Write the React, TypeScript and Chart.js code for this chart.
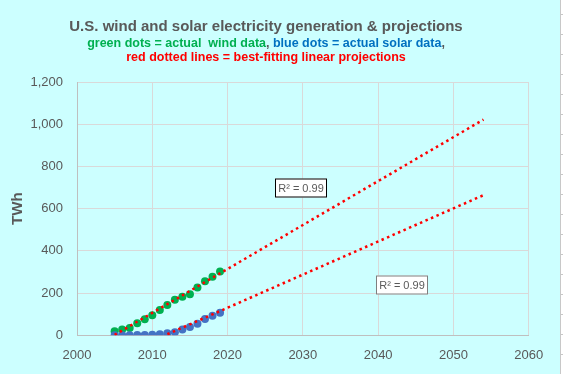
import React, { useEffect, useRef } from "react";
import { Chart, registerables } from "chart.js";

Chart.register(...registerables);

const years = [2005, 2006, 2007, 2008, 2009, 2010, 2011, 2012, 2013, 2014, 2015, 2016, 2017, 2018, 2019];
const windValues = [18.8, 28, 35, 57, 76, 95, 120, 144, 169, 183, 194, 226, 256, 277, 302];
const solarValues = [0.6, 0.5, 0.6, 0.9, 0.9, 3, 5, 10, 15, 28, 39, 55, 77, 93, 107];

const windTrendYears = [2005, 2054];
const windTrendValues = [2, 1022];
const solarTrendYears = [2012, 2054];
const solarTrendValues = [5, 664];

const xTicks = [2000, 2010, 2020, 2030, 2040, 2050, 2060];
const yTicks = [0, 200, 400, 600, 800, 1000, 1200];

const r2Text = "R² = 0.99";
const r2LabelYears = [2029.8, 2043.2];
const r2LabelValues = [700, 236];

const titleText = "U.S. wind and solar electricity generation & projections";
const subtitleParts = [
  { text: "green dots = actual  wind data", color: "#00b050" },
  { text: ",", color: "#595959" },
  { text: " blue dots = actual solar data", color: "#0070c0" },
  { text: ",", color: "#595959" },
];
const subtitle2 = "red dotted lines = best-fitting linear projections";

const FONT = "'Liberation Sans', Arial, sans-serif";

const overlayPlugin = {
  id: "overlay",
  afterDraw(chart: any) {
    const ctx = chart.ctx;
    ctx.save();
    const cx = 266;
    ctx.textBaseline = "alphabetic";
    ctx.textAlign = "left";
    // title
    ctx.font = `bold 15px ${FONT}`;
    ctx.fillStyle = "#595959";
    let w = ctx.measureText(titleText).width;
    ctx.fillText(titleText, cx - w / 2, 30.5);
    // subtitle line 1
    ctx.font = `bold 12.5px ${FONT}`;
    const total = subtitleParts.reduce((s, p) => s + ctx.measureText(p.text).width, 0);
    let x = cx - total / 2;
    for (const p of subtitleParts) {
      ctx.fillStyle = p.color;
      ctx.fillText(p.text, x, 46.5);
      x += ctx.measureText(p.text).width;
    }
    // subtitle line 2
    ctx.fillStyle = "#ff0000";
    w = ctx.measureText(subtitle2).width;
    ctx.fillText(subtitle2, cx - w / 2, 61);

    // R² boxes
    const xs = chart.scales.x;
    const ys = chart.scales.y;
    const borders = ["#000000", "#7f7f7f"];
    ctx.font = `11px ${FONT}`;
    for (let i = 0; i < r2LabelYears.length; i++) {
      const px = Math.round(xs.getPixelForValue(r2LabelYears[i]));
      const py = Math.round(ys.getPixelForValue(r2LabelValues[i]));
      const bw = 52, bh = 19;
      ctx.fillStyle = "#ffffff";
      ctx.fillRect(px - bw / 2, py - bh / 2, bw, bh);
      ctx.strokeStyle = borders[i];
      ctx.lineWidth = 1;
      ctx.strokeRect(px - bw / 2 + 0.5, py - bh / 2 + 0.5, bw - 1, bh - 1);
      ctx.fillStyle = "#595959";
      ctx.textAlign = "center";
      ctx.textBaseline = "middle";
      ctx.fillText(r2Text, px, py + 0.5);
    }
    ctx.restore();
  },
};

export default function App() {
  const ref = useRef<HTMLCanvasElement>(null);
  useEffect(() => {
    document.body.style.margin = "0";
    const canvas = ref.current!;
    const pts = (xsArr: number[], ysArr: number[]) => xsArr.map((x, i) => ({ x, y: ysArr[i] }));
    const chart = new Chart(canvas, {
      type: "scatter",
      data: {
        datasets: [
          {
            label: "wind trend",
            data: pts(windTrendYears, windTrendValues),
            showLine: true,
            borderColor: "#ff0000",
            borderWidth: 2.5,
            borderDash: [2.5, 3.5],
            borderCapStyle: "butt",
            pointRadius: 0,
            fill: false,
          },
          {
            label: "solar trend",
            data: pts(solarTrendYears, solarTrendValues),
            showLine: true,
            borderColor: "#ff0000",
            borderWidth: 2.5,
            borderDash: [2.5, 3.5],
            borderCapStyle: "butt",
            pointRadius: 0,
            fill: false,
          },
          {
            label: "solar",
            data: pts(years, solarValues),
            backgroundColor: "#4472c4",
            borderColor: "#4472c4",
            pointRadius: 4,
            borderWidth: 0,
          },
          {
            label: "wind",
            data: pts(years, windValues),
            backgroundColor: "#00b050",
            borderColor: "#00b050",
            pointRadius: 4,
            borderWidth: 0,
          },
        ],
      },
      options: {
        animation: false,
        responsive: false,
        maintainAspectRatio: false,
        devicePixelRatio: 1,
        layout: { padding: { left: 0, right: 31.3, top: 82, bottom: 0 } },
        plugins: {
          legend: { display: false },
          tooltip: { enabled: false },
          title: { display: false },
        },
        scales: {
          x: {
            type: "linear",
            min: 2000,
            max: 2060,
            afterBuildTicks: (s: any) => {
              s.ticks = xTicks.map((v) => ({ value: v }));
            },
            afterFit: (s: any) => {
              s.height = 38.7;
            },
            ticks: {
              callback: (v: any) => String(v),
              color: "#595959",
              font: { family: FONT, size: 13 },
              padding: 12,
            },
            grid: { color: "#d9d9d9", drawTicks: false },
            border: { color: "#bfbfbf" },
          },
          y: {
            type: "linear",
            min: 0,
            max: 1200,
            afterBuildTicks: (s: any) => {
              s.ticks = yTicks.map((v) => ({ value: v }));
            },
            afterFit: (s: any) => {
              s.width = 77;
            },
            ticks: {
              callback: (v: any) => Number(v).toLocaleString("en-US"),
              color: "#595959",
              font: { family: FONT, size: 13 },
              padding: 14,
            },
            grid: { color: "#d9d9d9", drawTicks: false },
            border: { color: "#bfbfbf" },
            title: {
              display: true,
              text: "TWh",
              color: "#595959",
              font: { family: FONT, size: 15, weight: "bold" },
              padding: { top: 9, bottom: 0 },
            },
          },
        },
      },
      plugins: [overlayPlugin],
    } as any);
    return () => chart.destroy();
  }, []);

  return (
    <div style={{ display: "flex", width: 563, height: 374 }}>
      <div style={{ width: 560, height: 374, background: "#ccffff" }}>
        <canvas ref={ref} width={560} height={374} style={{ display: "block", width: 560, height: 374 }} />
      </div>
      <div style={{ width: 1, height: 374, background: "#c8c8c8" }} />
      <div
        style={{
          width: 2,
          height: 374,
          background: "repeating-linear-gradient(to bottom, #ffffff 0px, #ffffff 14px, #c8c8c8 14px, #c8c8c8 15px, #ffffff 15px, #ffffff 20px)",
        }}
      />
    </div>
  );
}
